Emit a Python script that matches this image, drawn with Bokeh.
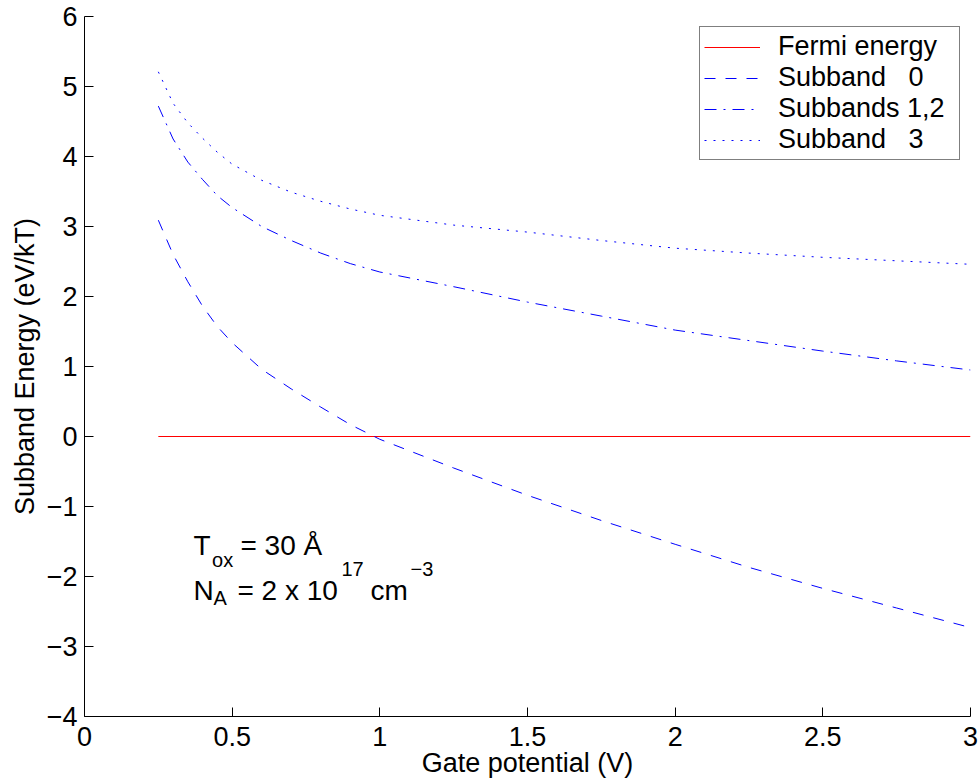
from bokeh.plotting import figure
from bokeh.models import FixedTicker, Label, Legend, LegendItem
from bokeh.embed import file_html
from bokeh.resources import INLINE

# Gate sweep (V) and subband energies (eV/kT)
gate_v = [0.25, 0.30, 0.35, 0.40, 0.45, 0.50, 0.60, 0.70, 0.80, 0.90,
          1.00, 1.25, 1.50, 1.75, 2.00, 2.25, 2.50, 2.75, 3.00]
subband_0 = [3.09, 2.60, 2.21, 1.86, 1.57, 1.34, 0.96, 0.68, 0.42, 0.17,
             -0.04, -0.45, -0.84, -1.20, -1.54, -1.87, -2.17, -2.45, -2.73]
subbands_12 = [4.72, 4.25, 3.92, 3.67, 3.44, 3.27, 3.00, 2.80, 2.62, 2.47,
               2.35, 2.14, 1.92, 1.72, 1.52, 1.37, 1.22, 1.08, 0.95]
subband_3 = [5.21, 4.76, 4.48, 4.26, 4.06, 3.89, 3.66, 3.49, 3.36, 3.25,
             3.16, 3.02, 2.92, 2.80, 2.69, 2.62, 2.56, 2.51, 2.46]

fermi_v = [0.25, 3.00]
fermi_level = [0.0, 0.0]

x_ticks = [0, 0.5, 1, 1.5, 2, 2.5, 3]
x_tick_labels = ["0", "0.5", "1", "1.5", "2", "2.5", "3"]
y_ticks = [-4, -3, -2, -1, 0, 1, 2, 3, 4, 5, 6]
y_tick_labels = ["\u22124", "\u22123", "\u22122", "\u22121", "0", "1", "2", "3", "4", "5", "6"]

FONT = "Liberation Sans"
SIZE = "27px"

p = figure(width=980, height=782, x_range=(0, 3), y_range=(-4, 6),
           output_backend="svg", toolbar_location=None,
           min_border_left=84, min_border_right=10,
           min_border_top=16, min_border_bottom=66,
           x_axis_label="Gate potential (V)",
           y_axis_label="Subband Energy (eV/kT)")
p.grid.visible = False
p.outline_line_color = None
p.background_fill_color = "white"
p.border_fill_color = "white"

r_fermi = p.line(fermi_v, fermi_level, line_color="#ff0000", line_width=1)
r_0 = p.line(gate_v, subband_0, line_color="#0000ff", line_width=1, line_dash="11 10")
r_12 = p.line(gate_v, subbands_12, line_color="#0000ff", line_width=1, line_dash="12 7 2 7")
r_3 = p.line(gate_v, subband_3, line_color="#0000ff", line_width=1, line_dash="2 7")

p.xaxis.ticker = FixedTicker(ticks=x_ticks)
p.xaxis.major_label_overrides = dict(zip(x_ticks, x_tick_labels))
p.yaxis.ticker = FixedTicker(ticks=y_ticks)
p.yaxis.major_label_overrides = dict(zip(y_ticks, y_tick_labels))

for ax in (p.xaxis[0], p.yaxis[0]):
    ax.axis_line_color = "black"
    ax.axis_line_width = 1
    ax.major_tick_in = 9
    ax.major_tick_out = 0
    ax.major_tick_line_color = "black"
    ax.minor_tick_line_color = None
    ax.major_label_text_font = FONT
    ax.major_label_text_font_size = SIZE
    ax.major_label_text_color = "black"
    ax.axis_label_text_font = FONT
    ax.axis_label_text_font_size = SIZE
    ax.axis_label_text_font_style = "normal"
    ax.axis_label_text_color = "black"

p.xaxis.major_label_standoff = 10
p.xaxis.axis_label_standoff = -1
p.yaxis.major_label_standoff = 7
p.yaxis.axis_label_standoff = 4

legend = Legend(items=[
    LegendItem(label="Fermi energy", renderers=[r_fermi]),
    LegendItem(label="Subband\u00a0\u00a0\u00a00", renderers=[r_0]),
    LegendItem(label="Subbands 1,2", renderers=[r_12]),
    LegendItem(label="Subband\u00a0\u00a0\u00a03", renderers=[r_3]),
], location="top_right", margin=10, padding=4, spacing=0,
    glyph_width=56, glyph_height=30, label_height=30, label_standoff=18,
    label_width=177, border_line_color="black", border_line_width=1,
    background_fill_color="white", background_fill_alpha=1.0,
    label_text_font=FONT, label_text_font_size=SIZE, label_text_color="black")
p.add_layout(legend)

# Device parameters, with sub- and superscripts as separate pieces
big = "28px"
small = "20px"
notes = [
    ("T", 0.369, -1.557, big),
    ("ox", 0.432, -1.771, small),
    ("= 30 \u00c5", 0.528, -1.557, big),
    ("N", 0.369, -2.200, big),
    ("A", 0.437, -2.300, small),
    ("= 2 x 10", 0.518, -2.200, big),
    ("17", 0.870, -1.886, small),
    ("cm", 0.968, -2.200, big),
    ("\u22123", 1.104, -1.886, small),
]
for txt, x, y, fs in notes:
    p.add_layout(Label(x=x, y=y, text=txt, text_font=FONT, text_font_size=fs,
                       text_color="black", text_baseline="alphabetic",
                       text_align="left"))

open("out.html", "w").write(file_html(p, INLINE))
